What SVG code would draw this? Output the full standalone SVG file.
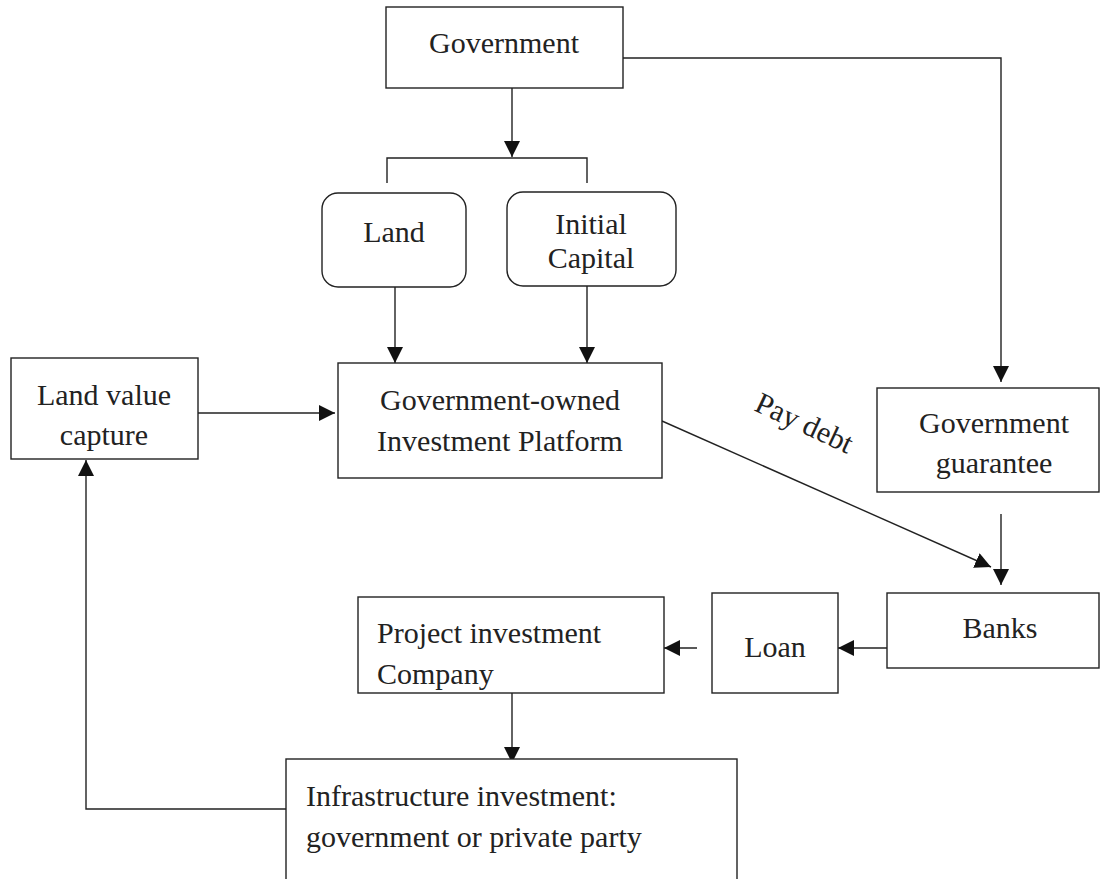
<svg xmlns="http://www.w3.org/2000/svg" width="1104" height="879" viewBox="0 0 1104 879">
<style>
.box{fill:#fff;stroke:#222;stroke-width:1.4}
.t{font-family:"Liberation Serif","Times New Roman",serif;font-size:30px;fill:#222}
.c{text-anchor:middle}
.ln{fill:none;stroke:#222;stroke-width:1.4}
.ar{marker-end:url(#ah)}
</style>
<defs>
<marker id="ah" markerUnits="userSpaceOnUse" markerWidth="17" markerHeight="17" refX="16" refY="8" orient="auto">
<path d="M0,0 L16,8 L0,16 z" fill="#111"/>
</marker>
</defs>
<rect width="1104" height="879" fill="#fff"/>
<g id="connectors">
<path class="ln ar" d="M512,84 V157"/>
<path class="ln" d="M387,183 V158 H587 V183"/>
<path class="ln ar" d="M623,58 H1001 V382"/>
<path class="ln ar" d="M395,287 V363"/>
<path class="ln ar" d="M587,286 V363"/>
<path class="ln ar" d="M198,413 H335"/>
<path class="ln ar" d="M662,421 L991,567"/>
<path class="ln ar" d="M1001,514 V585"/>
<path class="ln ar" d="M887,648 H838"/>
<path class="ln ar" d="M697,648 H664"/>
<path class="ln ar" d="M512,691 V763"/>
<path class="ln ar" d="M286,809 H86 V460"/>
<text class="t" style="font-size:30px" transform="translate(753,410) rotate(25)">Pay debt</text>
</g>
<g id="government">
<rect class="box" x="386" y="7" width="237" height="81"/>
<text class="t c" x="504" y="53">Government</text>
</g>
<g id="land">
<rect class="box" x="322" y="193" width="144" height="94" rx="16"/>
<text class="t c" x="394" y="242">Land</text>
</g>
<g id="initial-capital">
<rect class="box" x="507" y="192" width="169" height="94" rx="16"/>
<text class="t c" x="591" y="234">Initial</text>
<text class="t c" x="591" y="268">Capital</text>
</g>
<g id="platform">
<rect class="box" x="338" y="363" width="324" height="115"/>
<text class="t c" x="500" y="410">Government-owned</text>
<text class="t c" x="500" y="451">Investment Platform</text>
</g>
<g id="land-value-capture">
<rect class="box" x="11" y="358" width="187" height="101"/>
<text class="t c" x="104" y="405">Land value</text>
<text class="t c" x="104" y="445">capture</text>
</g>
<g id="gov-guarantee">
<rect class="box" x="877" y="388" width="222" height="104"/>
<text class="t c" x="994" y="433">Government</text>
<text class="t c" x="994" y="473">guarantee</text>
</g>
<g id="banks">
<rect class="box" x="887" y="593" width="212" height="75"/>
<text class="t c" x="1000" y="638">Banks</text>
</g>
<g id="loan">
<rect class="box" x="712" y="593" width="126" height="100"/>
<text class="t c" x="775" y="657">Loan</text>
</g>
<g id="project-company">
<rect class="box" x="358" y="597" width="306" height="96"/>
<text class="t" x="377" y="643">Project investment</text>
<text class="t" x="377" y="684">Company</text>
</g>
<g id="infrastructure">
<rect class="box" x="286" y="759" width="451" height="140"/>
<text class="t" x="306" y="806">Infrastructure investment:</text>
<text class="t" x="306" y="847">government or private party</text>
</g>
</svg>
